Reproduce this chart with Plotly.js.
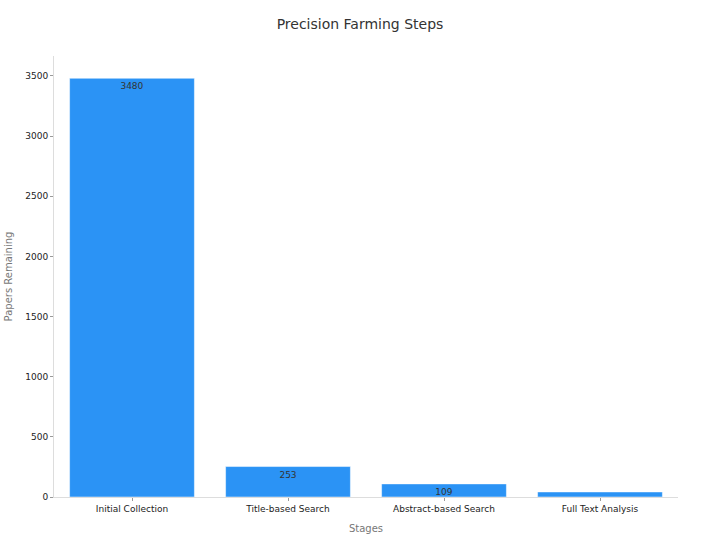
<!DOCTYPE html>
<html>
<head>
<meta charset="utf-8">
<script src="https://cdn.plot.ly/plotly-3.0.1.min.js"></script>
<style>body{margin:0;} #chart{width:720px;height:540px;}</style>
</head>
<body>
<div id="chart"></div>
<script>
// stages of the paper screening
const stages = ['Initial Collection', 'Title-based Search', 'Abstract-based Search', 'Full Text Analysis'];
const papers = [3480, 253, 109, 42];
const labels = ['3480', '253', '109', ''];  // last bar too thin for a label

let trace = {
    x: stages,
    y: papers,
    type: 'bar',
    text: labels,
    textposition: 'inside',
    insidetextanchor: 'end',
    constraintext: 'none',
    textfont: {size: 9, color: '#333'},
    marker: {color: '#2b93f5', line: {color: '#ffffff', width: 0.5}},
    hoverinfo: 'x+y'
};

let axisStyle = {
    showline: true,
    linecolor: '#ddd',
    linewidth: 1,
    ticks: 'outside',
    ticklen: 3,
    tickcolor: '#999',
    showgrid: false,
    zeroline: false,
    tickfont: {size: 9, color: '#222'}
};

let layout = {
    title: {text: 'Precision Farming Steps', font: {family: 'DejaVu Sans', size: 14, color: '#333'}, x: 0.5, y: 0.965},
    font: {family: 'DejaVu Sans'},
    margin: {l: 54, r: 42, t: 56, b: 43},
    bargap: 0.2,
    xaxis: Object.assign({}, axisStyle, {
        title: {text: 'Stages', font: {size: 10, color: '#777'}, standoff: 12}
    }),
    yaxis: Object.assign({}, axisStyle, {
        title: {text: 'Papers Remaining', font: {size: 10, color: '#777'}, standoff: 10},
        range: [0, 3665],
        dtick: 500
    }),
    plot_bgcolor: '#fff',
    paper_bgcolor: '#fff',
    showlegend: false
};

Plotly.newPlot('chart', [trace], layout, {displayModeBar: false});
</script>
</body>
</html>
